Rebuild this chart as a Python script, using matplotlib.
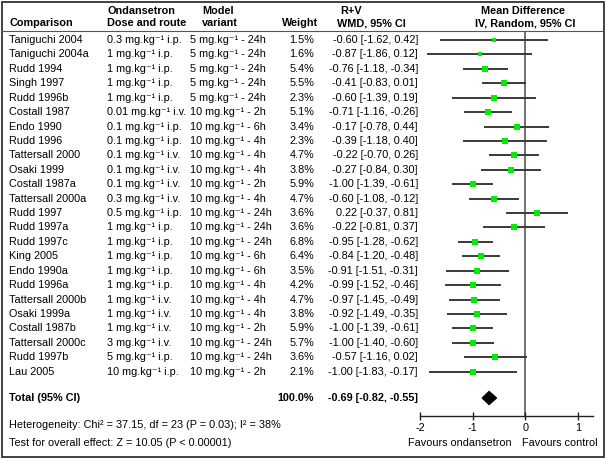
import matplotlib
matplotlib.use('Agg')
import matplotlib.pyplot as plt
import matplotlib.transforms as mtransforms
from matplotlib.patches import Rectangle, Polygon
from matplotlib.lines import Line2D

plt.rcParams['font.family'] = ['Liberation Sans', 'DejaVu Sans']

# 데이터
studies = ['Taniguchi 2004', 'Taniguchi 2004a', 'Rudd 1994', 'Singh 1997', 'Rudd 1996b',
           'Costall 1987', 'Endo 1990', 'Rudd 1996', 'Tattersall 2000', 'Osaki 1999',
           'Costall 1987a', 'Tattersall 2000a', 'Rudd 1997', 'Rudd 1997a', 'Rudd 1997c',
           'King 2005', 'Endo 1990a', 'Rudd 1996a', 'Tattersall 2000b', 'Osaki 1999a',
           'Costall 1987b', 'Tattersall 2000c', 'Rudd 1997b', 'Lau 2005']
doses = ['0.3 mg.kg⁻¹ i.p.', '1 mg.kg⁻¹ i.p.', '1 mg.kg⁻¹ i.p.', '1 mg.kg⁻¹ i.p.', '1 mg.kg⁻¹ i.p.',
         '0.01 mg.kg⁻¹ i.v.', '0.1 mg.kg⁻¹ i.p.', '0.1 mg.kg⁻¹ i.p.', '0.1 mg.kg⁻¹ i.v.', '0.1 mg.kg⁻¹ i.v.',
         '0.1 mg.kg⁻¹ i.v.', '0.3 mg.kg⁻¹ i.v.', '0.5 mg.kg⁻¹ i.p.', '1 mg.kg⁻¹ i.p.', '1 mg.kg⁻¹ i.p.',
         '1 mg.kg⁻¹ i.p.', '1 mg.kg⁻¹ i.p.', '1 mg.kg⁻¹ i.p.', '1 mg.kg⁻¹ i.v.', '1 mg.kg⁻¹ i.v.',
         '1 mg.kg⁻¹ i.v.', '3 mg.kg⁻¹ i.v.', '5 mg.kg⁻¹ i.p.', '10 mg.kg⁻¹ i.p.']
models = ['5 mg.kg⁻¹ - 24h'] * 5 + \
         ['10 mg.kg⁻¹ - 2h', '10 mg.kg⁻¹ - 6h', '10 mg.kg⁻¹ - 4h', '10 mg.kg⁻¹ - 4h', '10 mg.kg⁻¹ - 4h',
          '10 mg.kg⁻¹ - 2h', '10 mg.kg⁻¹ - 4h', '10 mg.kg⁻¹ - 24h', '10 mg.kg⁻¹ - 24h', '10 mg.kg⁻¹ - 24h',
          '10 mg.kg⁻¹ - 6h', '10 mg.kg⁻¹ - 6h', '10 mg.kg⁻¹ - 4h', '10 mg.kg⁻¹ - 4h', '10 mg.kg⁻¹ - 4h',
          '10 mg.kg⁻¹ - 2h', '10 mg.kg⁻¹ - 24h', '10 mg.kg⁻¹ - 24h', '10 mg.kg⁻¹ - 2h']
weights = [1.5, 1.6, 5.4, 5.5, 2.3, 5.1, 3.4, 2.3, 4.7, 3.8, 5.9, 4.7,
           3.6, 3.6, 6.8, 6.4, 3.5, 4.2, 4.7, 3.8, 5.9, 5.7, 3.6, 2.1]
md = [-0.60, -0.87, -0.76, -0.41, -0.60, -0.71, -0.17, -0.39, -0.22, -0.27, -1.00, -0.60,
      0.22, -0.22, -0.95, -0.84, -0.91, -0.99, -0.97, -0.92, -1.00, -1.00, -0.57, -1.00]
lo = [-1.62, -1.86, -1.18, -0.83, -1.39, -1.16, -0.78, -1.18, -0.70, -0.84, -1.39, -1.08,
      -0.37, -0.81, -1.28, -1.20, -1.51, -1.52, -1.45, -1.49, -1.39, -1.40, -1.16, -1.83]
hi = [0.42, 0.12, -0.34, 0.01, 0.19, -0.26, 0.44, 0.40, 0.26, 0.30, -0.61, -0.12,
      0.81, 0.37, -0.62, -0.48, -0.31, -0.46, -0.49, -0.35, -0.61, -0.60, 0.02, -0.17]
total_md, total_lo, total_hi = -0.69, -0.82, -0.55
x_ticks = [-2, -1, 0, 1]

W, H = 605, 458
fig = plt.figure(figsize=(W / 100, H / 100), dpi=100)

# 포레스트 플롯 영역
ax = fig.add_axes([420 / W, 1 - 415.7 / H, (593 - 420) / W, (415.7 - 32) / H])
ax.set_xlim(-2, 1.28)
row_h = 14.42
ax.set_ylim((415.7 - 40) / row_h, (32 - 40) / row_h)
total_row = (398 - 40) / row_h

for s in ['top', 'right', 'left']:
    ax.spines[s].set_visible(False)
ax.spines['bottom'].set_color('#222222')
ax.spines['bottom'].set_linewidth(1.0)
ax.set_yticks([])
ax.set_xticks(x_ticks)
ax.set_xticklabels([str(t) for t in x_ticks])
ax.tick_params(axis='x', direction='inout', length=6, width=1.0, color='#222222',
               labelsize=7.8, pad=2)
ax.axvline(0, color='#666666', lw=1.3, zorder=1)

for i in range(len(studies)):
    ax.plot([lo[i], hi[i]], [i, i], color='#3a3a3a', lw=1.4, zorder=2, solid_capstyle='butt')
    size_px = 3.3 + 1.2 * weights[i] ** 0.5
    ax.plot(md[i], i, marker='s', color='#00ee00', markeredgewidth=0,
            markersize=size_px * 0.72, zorder=3)

ax.add_patch(Polygon([[total_lo, total_row], [total_md, total_row - 0.45],
                      [total_hi, total_row], [total_md, total_row + 0.45]],
                     closed=True, color='black', zorder=3))

# 표 텍스트
tr = mtransforms.blended_transform_factory(fig.transFigure, ax.transData)
fs = 7.8
for i in range(len(studies)):
    ax.text(9 / W, i, studies[i], transform=tr, fontsize=fs, va='center', ha='left')
    ax.text(107 / W, i, doses[i], transform=tr, fontsize=fs, va='center', ha='left')
    ax.text(190 / W, i, models[i], transform=tr, fontsize=fs, va='center', ha='left')
    ax.text(314 / W, i, f'{weights[i]:.1f}%', transform=tr, fontsize=fs, va='center', ha='right')
    ax.text(418 / W, i, f'{md[i]:.2f} [{lo[i]:.2f}, {hi[i]:.2f}]', transform=tr,
            fontsize=fs, va='center', ha='right')

ax.text(9 / W, total_row, 'Total (95% CI)', transform=tr, fontsize=fs, va='center',
        ha='left', fontweight='bold')
ax.text(314 / W, total_row, '100.0%', transform=tr, fontsize=fs, va='center',
        ha='right', fontweight='bold')
ax.text(418 / W, total_row, f'{total_md:.2f} [{total_lo:.2f}, {total_hi:.2f}]',
        transform=tr, fontsize=fs, va='center', ha='right', fontweight='bold')

# 헤더
def ftext(x, y, s, ha='left', bold=False):
    fig.text(x / W, 1 - y / H, s, fontsize=fs, ha=ha, va='center',
             fontweight='bold' if bold else 'normal')

ftext(9, 23.5, 'Comparison', bold=True)
ftext(107, 10.5, 'Ondansetron', bold=True)
ftext(107, 23.5, 'Dose and route', bold=True)
ftext(218, 10.5, 'Model', ha='center', bold=True)
ftext(220, 23.5, 'variant', ha='center', bold=True)
ftext(300, 23.5, 'Weight', ha='center', bold=True)
ftext(351, 10.5, 'R+V', ha='center', bold=True)
ftext(371, 23.5, 'WMD, 95% CI', ha='center', bold=True)
ftext(523, 10.5, 'Mean Difference', ha='center', bold=True)
ftext(525, 23.5, 'IV, Random, 95% CI', ha='center', bold=True)

# 하단 텍스트
ftext(9, 425, 'Heterogeneity: Chi² = 37.15, df = 23 (P = 0.03); I² = 38%')
ftext(9, 443, 'Test for overall effect: Z = 10.05 (P < 0.00001)')
ftext(460, 442.7, 'Favours ondansetron', ha='center')
ftext(560, 442.7, 'Favours control', ha='center')

# 헤더 구분선, 테두리
fig.add_artist(Line2D([1 / W, 603 / W], [1 - 30.5 / H, 1 - 30.5 / H],
                      color='#555555', lw=0.8, transform=fig.transFigure))
fig.add_artist(Rectangle((1.5 / W, 1.5 / H), (W - 3) / W, (H - 3) / H, fill=False,
                         edgecolor='#333333', lw=1.3, transform=fig.transFigure))

fig.savefig('out.png', dpi=100)
